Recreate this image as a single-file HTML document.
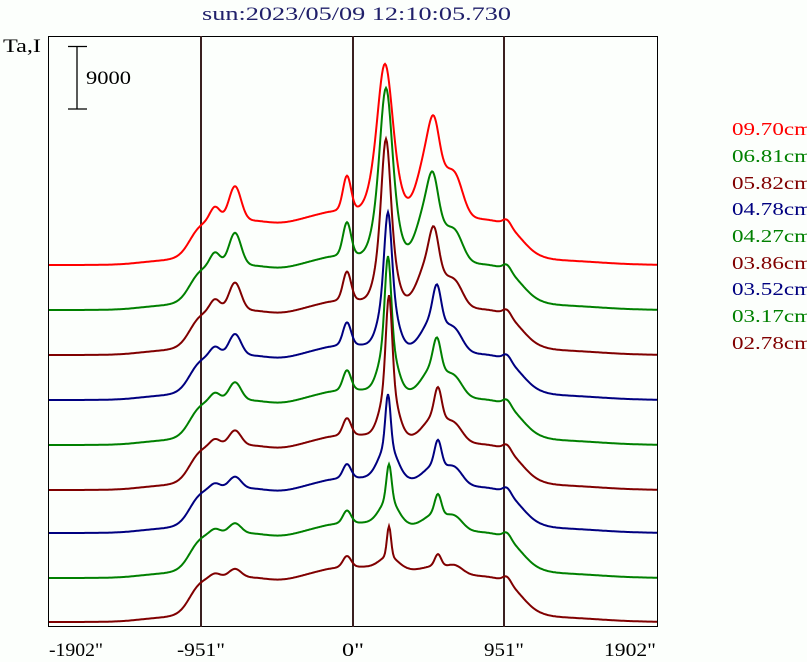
<!DOCTYPE html><html><head><style>
body{margin:0;background:#fcfffc;}
svg{display:block;font-family:"Liberation Serif",serif;}
</style></head><body>
<svg id="s" width="807" height="662" xmlns="http://www.w3.org/2000/svg">
<rect width="807" height="662" fill="#fcfffc"/>
<text x="202" y="20" font-size="19" fill="#20206a" textLength="309" lengthAdjust="spacingAndGlyphs">sun:2023/05/09 12:10:05.730</text>
<text x="3" y="52" font-size="19" fill="#000" textLength="38" lengthAdjust="spacingAndGlyphs">Ta,I</text>
<rect x="48.5" y="36.5" width="609" height="590" fill="none" stroke="#000" stroke-width="1"/>
<g stroke="#3a2020" stroke-width="2">
<line x1="201" y1="36" x2="201" y2="627"/><line x1="353" y1="36" x2="353" y2="627"/><line x1="504" y1="36" x2="504" y2="627"/></g>
<g stroke="#000" stroke-width="1.3"><line x1="77" y1="46" x2="77" y2="109"/><line x1="68" y1="46.5" x2="87" y2="46.5"/><line x1="68" y1="109" x2="87" y2="109"/></g>
<text x="86" y="84" font-size="19" textLength="45" lengthAdjust="spacingAndGlyphs">9000</text>
<g font-size="19">
<text x="49" y="656" textLength="54" lengthAdjust="spacingAndGlyphs">-1902"</text>
<text x="177" y="656" textLength="48" lengthAdjust="spacingAndGlyphs">-951"</text>
<text x="342" y="656" textLength="22" lengthAdjust="spacingAndGlyphs">0"</text>
<text x="484" y="656" textLength="40" lengthAdjust="spacingAndGlyphs">951"</text>
<text x="604" y="656" textLength="52" lengthAdjust="spacingAndGlyphs">1902"</text></g>
<g font-size="18">
<text x="732" y="135" fill="#ff0000" textLength="80" lengthAdjust="spacingAndGlyphs">09.70cm</text>
<text x="732" y="162" fill="#008000" textLength="80" lengthAdjust="spacingAndGlyphs">06.81cm</text>
<text x="732" y="189" fill="#800000" textLength="80" lengthAdjust="spacingAndGlyphs">05.82cm</text>
<text x="732" y="215" fill="#000080" textLength="80" lengthAdjust="spacingAndGlyphs">04.78cm</text>
<text x="732" y="242" fill="#008000" textLength="80" lengthAdjust="spacingAndGlyphs">04.27cm</text>
<text x="732" y="269" fill="#800000" textLength="80" lengthAdjust="spacingAndGlyphs">03.86cm</text>
<text x="732" y="295" fill="#000080" textLength="80" lengthAdjust="spacingAndGlyphs">03.52cm</text>
<text x="732" y="322" fill="#008000" textLength="80" lengthAdjust="spacingAndGlyphs">03.17cm</text>
<text x="732" y="349" fill="#800000" textLength="80" lengthAdjust="spacingAndGlyphs">02.78cm</text>
</g>
<g id="c" fill="none" stroke-width="2"></g>
</svg>
<script>
function g(x,c,h,s){return h*Math.exp(-(x-c)*(x-c)/(2*s*s));}
function sg(x,c,w){return 1/(1+Math.exp(-(x-c)/w));}
var S=[
["#ff0000",265,.9,55,6,92,10,385,26,75,434,38],
["#008000",310,.85,72,5,96,9,386,26,64,433,28],
["#800000",355,.7,82,4,80,8,386,30,50,434,23],
["#000080",400,.5,76,3.5,58,8,388,33,33,437,19],
["#008000",445,.4,82,3,53,8,388,29,29,437,17],
["#800000",490,.3,88,3,53,8,389,29,24,438,15],
["#000080",533,.2,50,2.5,35,9,388,25,18,438,15],
["#008000",578,.15,35,2.5,25,9,389,20,14,438,12],
["#800000",622,.1,30,2,12,9,389,12,6,438,8]];
var out="";
S.forEach(function(p){
 var d="",k=p[2];
 for(var x=49;x<=657;x++){
  var plat=40*sg(x,190,6)*(1-sg(x,522,9));
  var ramp=12*sg(x,318,12)*(1-sg(x,420,30));
  var v=plat+ramp+5*sg(x,140,12)*(1-sg(x,600,20))
   +g(x,215,3+12*k,5)+g(x,235,5+32*k,6)-g(x,280,3,15)+g(x,347,8+29*k,4)+g(x,507,6,4)
   +g(x,p[7],p[3],p[4])+g(x,p[7],p[5],p[6])
   +g(x,p[10],p[8],3+2*k)+g(x,p[10]-3,p[9],11)+g(x,455,p[11],8);
  d+=(x==49?"M":"L")+x+","+(p[1]-v).toFixed(1);
 }
 out+='<path stroke="'+p[0]+'" d="'+d+'"/>';
});
document.getElementById("c").innerHTML=out;
</script>
</body></html>
